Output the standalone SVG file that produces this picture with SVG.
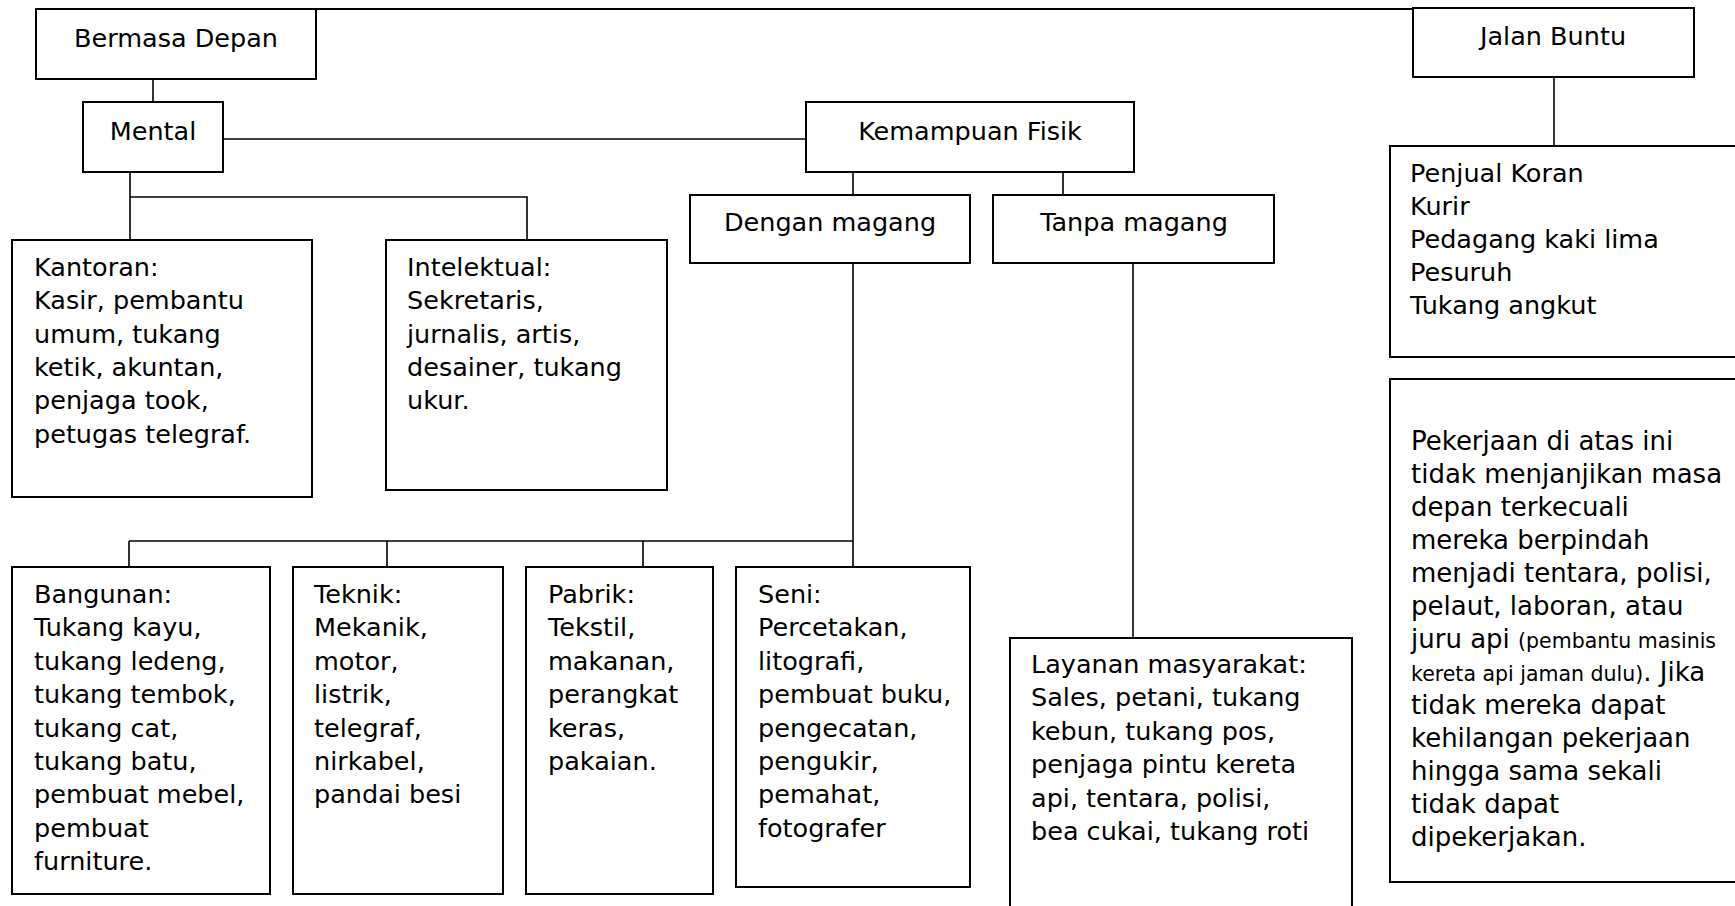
<svg xmlns="http://www.w3.org/2000/svg" width="1735" height="906" viewBox="0 0 1735 906">
<style>
.box{fill:#fff;stroke:#000;stroke-width:2}
.conn{fill:none;stroke:#000;stroke-width:1.6}
.top{fill:none;stroke:#000;stroke-width:2.2}
.t{font-family:"DejaVu Sans","Liberation Sans",sans-serif;font-size:25.5px;fill:#000}
.c{text-anchor:middle}
.p{font-size:26px}
.s{font-size:20.5px}
</style>
<rect width="1735" height="906" fill="#fff"/>
<g id="connectors">
<path class="top" d="M316,9 H1413"/>
<path class="conn" d="M153,79 V102"/>
<path class="conn" d="M223,139 H806"/>
<path class="conn" d="M130,172 V240 M130,197 H527 V240"/>
<path class="conn" d="M853,172 V195 M1063,172 V195"/>
<path class="conn" d="M853,263 V567 M129,541 H853 M129,541 V567 M387,541 V567 M643,541 V567"/>
<path class="conn" d="M1133,263 V638"/>
<path class="conn" d="M1554,77 V146"/>
</g>
<g id="bermasa-depan"><rect class="box" x="36" y="9" width="280" height="70"/><text class="t c" x="176" y="47">Bermasa Depan</text></g>
<g id="jalan-buntu"><rect class="box" x="1413" y="8" width="281" height="69"/><text class="t c" x="1553" y="45">Jalan Buntu</text></g>
<g id="mental"><rect class="box" x="83" y="102" width="140" height="70"/><text class="t c" x="153" y="140">Mental</text></g>
<g id="kemampuan-fisik"><rect class="box" x="806" y="102" width="328" height="70"/><text class="t c" x="970" y="140">Kemampuan Fisik</text></g>
<g id="dengan-magang"><rect class="box" x="690" y="195" width="280" height="68"/><text class="t c" x="830" y="231">Dengan magang</text></g>
<g id="tanpa-magang"><rect class="box" x="993" y="195" width="281" height="68"/><text class="t c" x="1134" y="231">Tanpa magang</text></g>
<g id="kantoran"><rect class="box" x="12" y="240" width="300" height="257"/>
<text class="t" x="34" y="276"><tspan x="34">Kantoran:</tspan><tspan x="34" dy="33.3">Kasir, pembantu</tspan><tspan x="34" dy="33.3">umum, tukang</tspan><tspan x="34" dy="33.3">ketik, akuntan,</tspan><tspan x="34" dy="33.3">penjaga took,</tspan><tspan x="34" dy="33.3">petugas telegraf.</tspan></text></g>
<g id="intelektual"><rect class="box" x="386" y="240" width="281" height="250"/>
<text class="t" x="407" y="276"><tspan x="407">Intelektual:</tspan><tspan x="407" dy="33.3">Sekretaris,</tspan><tspan x="407" dy="33.3">jurnalis, artis,</tspan><tspan x="407" dy="33.3">desainer, tukang</tspan><tspan x="407" dy="33.3">ukur.</tspan></text></g>
<g id="bangunan"><rect class="box" x="12" y="567" width="258" height="327"/>
<text class="t" x="34" y="603"><tspan x="34">Bangunan:</tspan><tspan x="34" dy="33.4">Tukang kayu,</tspan><tspan x="34" dy="33.4">tukang ledeng,</tspan><tspan x="34" dy="33.4">tukang tembok,</tspan><tspan x="34" dy="33.4">tukang cat,</tspan><tspan x="34" dy="33.4">tukang batu,</tspan><tspan x="34" dy="33.4">pembuat mebel,</tspan><tspan x="34" dy="33.4">pembuat</tspan><tspan x="34" dy="33.4">furniture.</tspan></text></g>
<g id="teknik"><rect class="box" x="293" y="567" width="210" height="327"/>
<text class="t" x="314" y="603"><tspan x="314">Teknik:</tspan><tspan x="314" dy="33.4">Mekanik,</tspan><tspan x="314" dy="33.4">motor,</tspan><tspan x="314" dy="33.4">listrik,</tspan><tspan x="314" dy="33.4">telegraf,</tspan><tspan x="314" dy="33.4">nirkabel,</tspan><tspan x="314" dy="33.4">pandai besi</tspan></text></g>
<g id="pabrik"><rect class="box" x="526" y="567" width="187" height="327"/>
<text class="t" x="548" y="603"><tspan x="548">Pabrik:</tspan><tspan x="548" dy="33.4">Tekstil,</tspan><tspan x="548" dy="33.4">makanan,</tspan><tspan x="548" dy="33.4">perangkat</tspan><tspan x="548" dy="33.4">keras,</tspan><tspan x="548" dy="33.4">pakaian.</tspan></text></g>
<g id="seni"><rect class="box" x="736" y="567" width="234" height="320"/>
<text class="t" x="758" y="603"><tspan x="758">Seni:</tspan><tspan x="758" dy="33.4">Percetakan,</tspan><tspan x="758" dy="33.4">litografi,</tspan><tspan x="758" dy="33.4">pembuat buku,</tspan><tspan x="758" dy="33.4">pengecatan,</tspan><tspan x="758" dy="33.4">pengukir,</tspan><tspan x="758" dy="33.4">pemahat,</tspan><tspan x="758" dy="33.4">fotografer</tspan></text></g>
<g id="layanan-masyarakat"><rect class="box" x="1010" y="638" width="342" height="290"/>
<text class="t" x="1031" y="673"><tspan x="1031">Layanan masyarakat:</tspan><tspan x="1031" dy="33.4">Sales, petani, tukang</tspan><tspan x="1031" dy="33.4">kebun, tukang pos,</tspan><tspan x="1031" dy="33.4">penjaga pintu kereta</tspan><tspan x="1031" dy="33.4">api, tentara, polisi,</tspan><tspan x="1031" dy="33.4">bea cukai, tukang roti</tspan></text></g>
<g id="penjual"><rect class="box" x="1390" y="146" width="360" height="211"/>
<text class="t" x="1410" y="182"><tspan x="1410">Penjual Koran</tspan><tspan x="1410" dy="33">Kurir</tspan><tspan x="1410" dy="33">Pedagang kaki lima</tspan><tspan x="1410" dy="33">Pesuruh</tspan><tspan x="1410" dy="33">Tukang angkut</tspan></text></g>
<g id="pekerjaan"><rect class="box" x="1390" y="379" width="360" height="503"/>
<text class="t p" x="1411" y="450"><tspan x="1411">Pekerjaan di atas ini</tspan><tspan x="1411" dy="33">tidak menjanjikan masa</tspan><tspan x="1411" dy="33">depan terkecuali</tspan><tspan x="1411" dy="33">mereka berpindah</tspan><tspan x="1411" dy="33">menjadi tentara, polisi,</tspan><tspan x="1411" dy="33">pelaut, laboran, atau</tspan><tspan x="1411" dy="33">juru api </tspan><tspan class="s">(pembantu masinis</tspan><tspan x="1411" dy="33" class="s">kereta api jaman dulu)</tspan><tspan>. Jika</tspan><tspan x="1411" dy="33">tidak mereka dapat</tspan><tspan x="1411" dy="33">kehilangan pekerjaan</tspan><tspan x="1411" dy="33">hingga sama sekali</tspan><tspan x="1411" dy="33">tidak dapat</tspan><tspan x="1411" dy="33">dipekerjakan.</tspan></text></g>
</svg>
